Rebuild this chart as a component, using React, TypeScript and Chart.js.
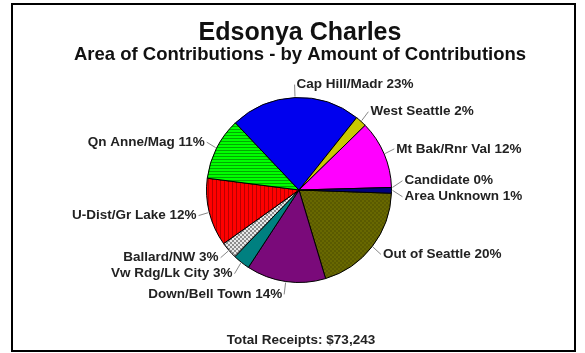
import React, { useEffect, useRef } from "react";
import { Chart, registerables } from "chart.js";

Chart.register(...registerables);

const categories = [
  "Out of Seattle",
  "Down/Bell Town",
  "Vw Rdg/Lk City",
  "Ballard/NW",
  "U-Dist/Gr Lake",
  "Qn Anne/Mag",
  "Cap Hill/Madr",
  "West Seattle",
  "Mt Bak/Rnr Val",
  "Candidate",
  "Area Unknown",
];
const percentages = [20, 14, 3, 3, 12, 11, 23, 2, 12, 0, 1];
const titleText = "Edsonya Charles";
const subtitleText = "Area of Contributions - by Amount of Contributions";
const footerText = "Total Receipts: $73,243";

const FONT = "'Liberation Sans', Arial, Helvetica, sans-serif";

function makePattern(kind: string, bg: string, fg: string, size: number): CanvasPattern | string {
  const c = document.createElement("canvas");
  c.width = size;
  c.height = size;
  const g = c.getContext("2d");
  if (!g) return bg;
  g.fillStyle = bg;
  g.fillRect(0, 0, size, size);
  g.fillStyle = fg;
  if (kind === "h") {
    g.fillRect(0, 0, size, 1);
  } else if (kind === "v") {
    g.fillRect(0, 0, 1, size);
  } else if (kind === "check") {
    const h = size / 2;
    g.fillRect(0, 0, h, h);
    g.fillRect(h, h, h, h);
  }
  const p = g.createPattern(c, "repeat");
  return p || bg;
}

const framePlugin = {
  id: "frame",
  beforeDraw(chart: any) {
    const ctx = chart.ctx as CanvasRenderingContext2D;
    ctx.save();
    ctx.fillStyle = "#ffffff";
    ctx.fillRect(0, 0, chart.width, chart.height);
    ctx.restore();
  },
  afterDraw(chart: any) {
    const ctx = chart.ctx as CanvasRenderingContext2D;
    ctx.save();
    ctx.strokeStyle = "#000";
    ctx.lineWidth = 2;
    ctx.strokeRect(12, 4, 563, 347);
    ctx.fillStyle = "#111";
    ctx.textAlign = "center";
    ctx.textBaseline = "alphabetic";
    ctx.font = `bold 25px ${FONT}`;
    ctx.fillText(titleText, 300, 40);
    ctx.font = `bold 18.5px ${FONT}`;
    ctx.fillText(subtitleText, 300, 60);
    ctx.fillStyle = "#222";
    ctx.font = `bold 13.5px ${FONT}`;
    ctx.textBaseline = "middle";
    ctx.fillText(footerText, 301, 340);
    ctx.restore();
  },
};

const labelPlugin = {
  id: "pieLabels",
  afterDatasetsDraw(chart: any) {
    const ctx = chart.ctx as CanvasRenderingContext2D;
    const meta = chart.getDatasetMeta(0);
    const ds = chart.data.datasets[0];
    const items: any[] = [];
    meta.data.forEach((arc: any, i: number) => {
      const p = arc.getProps(["x", "y", "startAngle", "endAngle", "outerRadius"], true);
      const mid = (p.startAngle + p.endAngle) / 2;
      const ux = Math.cos(mid);
      const uy = Math.sin(mid);
      const right = ux > -0.1;
      items.push({
        i,
        cx: p.x,
        cy: p.y,
        r: p.outerRadius,
        ux,
        uy,
        right,
        lx: p.x + ux * (p.outerRadius + 11),
        ty: p.y + uy * (p.outerRadius + 13),
      });
    });
    const gap = 16;
    [true, false].forEach((side) => {
      const group = items.filter((it) => it.right === side).sort((a, b) => a.ty - b.ty);
      for (let iter = 0; iter < 60; iter++) {
        let moved = false;
        for (let k = 1; k < group.length; k++) {
          const a = group[k - 1];
          const b = group[k];
          const d = b.ty - a.ty;
          if (d < gap - 0.01) {
            const s = (gap - d) / 2;
            a.ty -= s;
            b.ty += s;
            moved = true;
          }
        }
        if (!moved) break;
      }
    });
    ctx.save();
    ctx.font = `bold 13.5px ${FONT}`;
    ctx.textBaseline = "middle";
    items.forEach((it) => {
      const x0 = it.cx + it.ux * (it.r + 1);
      const y0 = it.cy + it.uy * (it.r + 1);
      const x1 = it.lx;
      const y1 = it.ty;
      ctx.strokeStyle = "#888";
      ctx.lineWidth = 1;
      ctx.beginPath();
      ctx.moveTo(x0, y0);
      ctx.lineTo(x1, y1);
      ctx.stroke();
      const text = `${categories[it.i]} ${ds.data[it.i]}%`;
      ctx.fillStyle = "#222";
      if (it.right) {
        ctx.textAlign = "left";
        ctx.fillText(text, x1 + 2, y1);
      } else {
        ctx.textAlign = "right";
        ctx.fillText(text, x1 - 2, y1);
      }
    });
    ctx.restore();
  },
};

export default function App() {
  const ref = useRef<HTMLCanvasElement>(null);
  useEffect(() => {
    const canvas = ref.current;
    if (!canvas) return;
    const colors = [
      makePattern("check", "#686800", "#5a5a00", 4),
      "#7a0a7a",
      "#008080",
      makePattern("check", "#e8e8e8", "#8c8c8c", 4),
      makePattern("v", "#ff0000", "#b80000", 4),
      makePattern("h", "#00ff00", "#00aa00", 3),
      "#0000ee",
      "#c8c800",
      "#ff00ff",
      "#00ffff",
      "#000080",
    ];
    const chart = new Chart(canvas, {
      type: "pie",
      data: {
        labels: categories,
        datasets: [
          {
            data: percentages,
            backgroundColor: colors as any,
            borderColor: "#000",
            borderWidth: 1,
          },
        ],
      },
      options: {
        responsive: false,
        animation: false,
        rotation: 92,
        layout: { padding: { left: 206, right: 193, top: 97, bottom: 70 } },
        plugins: {
          legend: { display: false },
          tooltip: { enabled: false },
          title: { display: false },
        },
      },
      plugins: [framePlugin, labelPlugin],
    });
    return () => chart.destroy();
  }, []);
  return (
    <div style={{ position: "absolute", left: 0, top: 0, width: 585, height: 353, background: "#fff" }}>
      <canvas ref={ref} width={585} height={353} style={{ display: "block", width: 585, height: 353 }} />
    </div>
  );
}
